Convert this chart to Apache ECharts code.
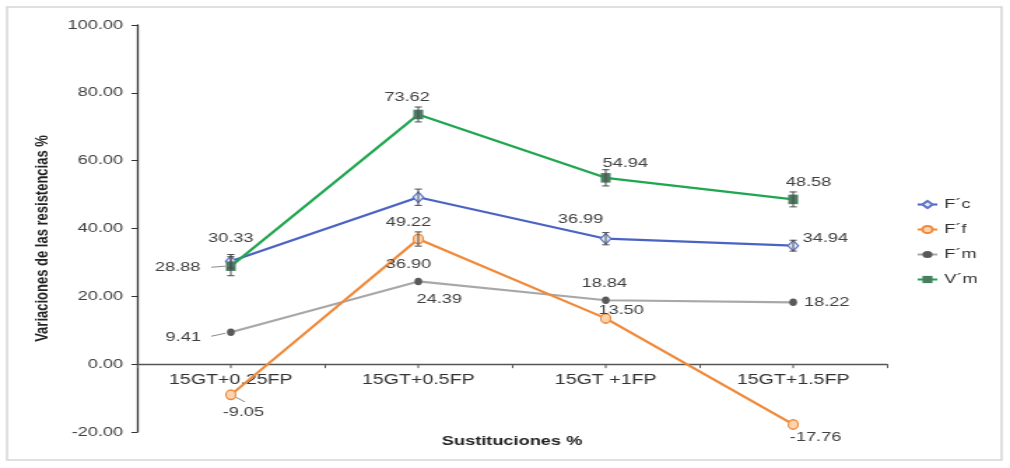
<!DOCTYPE html>
<html>
<head>
<meta charset="utf-8">
<script src="https://cdn.jsdelivr.net/npm/echarts@6/dist/echarts.min.js"></script>
<style>
html,body{margin:0;padding:0;background:#fff;overflow:hidden;width:1010px;height:468px;}
#wrap{width:1010px;height:468px;overflow:hidden;}
#chart{width:722px;height:468px;transform:scaleX(1.39889);transform-origin:0 0;}
</style>
</head>
<body>
<div id="wrap"><div id="chart"></div></div>
<script>
// ---- data ----
const categories = ['15GT+0.25FP', '15GT+0.5FP', '15GT +1FP', '15GT+1.5FP'];
const seriesNames = ['F´c', 'F´f', 'F´m', 'V´m'];
const fcValues = [30.33, 49.22, 36.99, 34.94];
const ffValues = [-9.05, 36.90, 13.50, -17.76];
const fmValues = [9.41, 24.39, 18.84, 18.22];
const vmValues = [28.88, 73.62, 54.94, 48.58];
const fcErrors = [2.0, 2.4, 1.8, 1.6];
const ffErrors = [0.0, 2.1, 0.0, 0.0];
const fmErrors = [0.0, 0.0, 0.0, 0.0];
const vmErrors = [2.8, 2.2, 2.4, 2.2];
const yMin = -20, yMax = 100, yStep = 20;

// ---- layout / style config (not data) ----
const labelOffsets = {
  fc: [[0, -23], [-7, 25], [-18, -19], [23, -7]],
  ff: [[9, 18], [-7, 25], [11, -8], [16, 13]],
  fm: [[-34, 5], [15, 18], [-1, -17], [24, 0]],
  vm: [[-38, 1], [-8, -17], [14, -14], [11, -17]]
};
// leader lines: [values array, index, x1, y1, x2, y2] offsets in px from the point
const leaders = [
  [vmValues, 0, -14, 1, -4, 0],
  [fmValues, 0, -14, 4, -4, 1],
  [ffValues, 0, 3, 2, 10, 7]
];

const FONT = 'Liberation Sans, Arial, sans-serif';
const chart = echarts.init(document.getElementById('chart'), null, {renderer: 'canvas'});

function makeLayout(offs) {
  return function (params) {
    const o = offs[params.dataIndex];
    return {
      x: params.rect.x + params.rect.width / 2 + o[0],
      y: params.rect.y + params.rect.height / 2 + o[1],
      align: 'center',
      verticalAlign: 'middle'
    };
  };
}

function lineSeries(name, values, offs, lineColor, symbol, size, itemStyle, z) {
  return {
    type: 'line',
    name: name,
    data: values,
    z: z,
    symbol: symbol,
    symbolSize: size,
    lineStyle: {color: lineColor, width: 2.2},
    itemStyle: itemStyle,
    label: {
      show: true,
      fontFamily: FONT,
      fontSize: 13,
      color: '#404040',
      formatter: p => Number(p.value).toFixed(2)
    },
    labelLayout: makeLayout(offs),
    emphasis: {disabled: true}
  };
}

function errorSeries(values, errors) {
  return {
    type: 'custom',
    z: 6,
    silent: true,
    data: values.map((v, i) => [i, v, errors[i]]),
    encode: {x: 0, y: 1},
    renderItem: function (params, api) {
      const x = api.value(0), v = api.value(1), e = api.value(2);
      if (!e) return null;
      const top = api.coord([x, v + e]);
      const bot = api.coord([x, v - e]);
      const cw = 2.6;
      const st = {stroke: '#4d4d4d', lineWidth: 1};
      return {
        type: 'group',
        children: [
          {type: 'line', shape: {x1: top[0], y1: top[1], x2: bot[0], y2: bot[1]}, style: st},
          {type: 'line', shape: {x1: top[0] - cw, y1: top[1], x2: top[0] + cw, y2: top[1]}, style: st},
          {type: 'line', shape: {x1: bot[0] - cw, y1: bot[1], x2: bot[0] + cw, y2: bot[1]}, style: st}
        ]
      };
    }
  };
}

const leaderSeries = {
  type: 'custom',
  z: 2,
  silent: true,
  data: leaders.map((l, k) => [l[1], l[0][l[1]], k]),
  encode: {x: 0, y: 1},
  renderItem: function (params, api) {
    const p = api.coord([api.value(0), api.value(1)]);
    const l = leaders[api.value(2)];
    return {
      type: 'line',
      shape: {x1: p[0] + l[2], y1: p[1] + l[3], x2: p[0] + l[4], y2: p[1] + l[5]},
      style: {stroke: '#8a8a8a', lineWidth: 1}
    };
  }
};

// tick marks and category labels placed on the zero line
const zeroLineMarks = {
  type: 'custom',
  z: 1,
  silent: true,
  data: categories.map((c, i) => [i, 0]),
  encode: {x: 0, y: 1},
  renderItem: function (params, api) {
    const i = api.value(0);
    const p = api.coord([i, 0]);
    return {
      type: 'group',
      children: [
        {type: 'line', shape: {x1: p[0], y1: p[1], x2: p[0], y2: p[1] + 4},
          style: {stroke: '#555', lineWidth: 1}},
        {type: 'text', x: p[0], y: p[1] + 9,
          style: {text: categories[i], fontFamily: FONT, fontSize: 14, fill: '#333',
            align: 'center', verticalAlign: 'top'}}
      ]
    };
  }
};

const option = {
  backgroundColor: '#ffffff',
  animation: false,
  graphic: [{
    type: 'rect',
    shape: {x: 5, y: 7, width: 711, height: 453},
    style: {fill: 'none', stroke: '#d6d6d6', lineWidth: 1.5},
    silent: true,
    z: -10
  }],
  grid: {left: 98, right: 88, top: 25, bottom: 36, containLabel: false, outerBoundsMode: 'none'},
  legend: {
    orient: 'vertical',
    left: 650,
    top: 193,
    itemWidth: 14,
    itemHeight: 9,
    itemGap: 12,
    data: seriesNames,
    textStyle: {fontFamily: FONT, fontSize: 13, color: '#333'},
    selectedMode: false
  },
  xAxis: {
    type: 'category',
    data: categories,
    boundaryGap: true,
    axisLine: {show: true, onZero: true, onZeroAxisIndex: 0, lineStyle: {color: '#555', width: 1.3}},
    axisTick: {show: true, alignWithLabel: false, interval: 0, length: 4, lineStyle: {color: '#555'}},
    axisLabel: {show: false},
    splitLine: {show: false},
    name: 'Sustituciones %',
    nameLocation: 'middle',
    nameGap: 3,
    nameTextStyle: {fontFamily: FONT, fontSize: 13, fontWeight: 'bold', color: '#222'}
  },
  yAxis: {
    type: 'value',
    min: yMin,
    max: yMax,
    interval: yStep,
    axisLine: {show: true, lineStyle: {color: '#333', width: 1.3}},
    axisTick: {show: true, inside: false, length: 4, lineStyle: {color: '#333'}},
    axisLabel: {fontFamily: FONT, fontSize: 13, color: '#404040', margin: 10, formatter: v => v.toFixed(2)},
    splitLine: {show: false},
    name: 'Variaciones de las resistencias %',
    nameLocation: 'middle',
    nameGap: 51,
    nameTextStyle: {fontFamily: FONT, fontSize: 13, fontWeight: 'bold', color: '#222', padding: [0, 20, 0, 0]}
  },
  series: [
    zeroLineMarks,
    lineSeries(seriesNames[2], fmValues, labelOffsets.fm, '#a8a8a8', 'circle', [5.5, 7.5],
      {color: '#595959'}, 2),
    lineSeries(seriesNames[1], ffValues, labelOffsets.ff, '#f08a3a', 'circle', [7, 9.5],
      {color: '#fcd5b0', borderColor: '#ef8a3c', borderWidth: 1.3}, 3),
    lineSeries(seriesNames[0], fcValues, labelOffsets.fc, '#4b63c3', 'diamond', [7.5, 10.5],
      {color: '#e3ebf8', borderColor: '#5b73c8', borderWidth: 1.2}, 4),
    lineSeries(seriesNames[3], vmValues, labelOffsets.vm, '#1fa64f', 'rect', [7, 9.5],
      {color: '#4a7c62'}, 5),
    errorSeries(fcValues, fcErrors),
    errorSeries(ffValues, ffErrors),
    errorSeries(fmValues, fmErrors),
    errorSeries(vmValues, vmErrors),
    leaderSeries
  ]
};
chart.setOption(option);
</script>
</body>
</html>
